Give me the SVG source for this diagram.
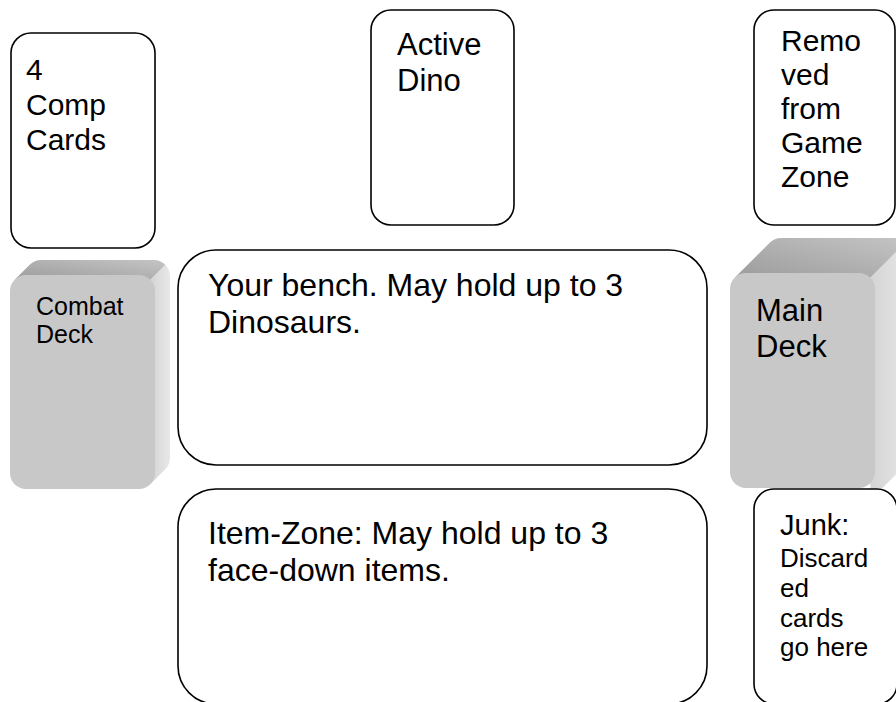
<svg xmlns="http://www.w3.org/2000/svg" width="896" height="702" viewBox="0 0 896 702">
<defs>
<style>
.card{fill:#ffffff;stroke:#000000;stroke-width:1.6}
.t{font-family:"Liberation Sans",Arial,sans-serif;fill:#000000}
.front{fill:#c8c8c8}
.side{fill:url(#sideG)}
.top{fill:url(#topG)}
</style>
<linearGradient id="topG" x1="0" y1="1" x2="1" y2="0">
<stop offset="0" stop-color="#9c9c9c"/>
<stop offset="1" stop-color="#c4c4c4"/>
</linearGradient>
<linearGradient id="sideG" x1="0" y1="0" x2="1" y2="0">
<stop offset="0" stop-color="#d4d4d4"/>
<stop offset="1" stop-color="#e8e8e8"/>
</linearGradient>
</defs>
<rect width="896" height="702" fill="#ffffff"/>

<g id="comp-cards">
<rect class="card" x="11" y="33" width="144" height="215" rx="20"/>
<text class="t" font-size="30"><tspan x="26" y="80">4</tspan><tspan x="26" y="115">Comp</tspan><tspan x="26" y="150">Cards</tspan></text>
</g>

<g id="active-dino">
<rect class="card" x="371" y="10" width="143" height="215" rx="20"/>
<text class="t" font-size="31"><tspan x="397" y="55">Active</tspan><tspan x="397" y="91">Dino</tspan></text>
</g>

<g id="removed-zone">
<rect class="card" x="754" y="10" width="141" height="215" rx="20"/>
<text class="t" font-size="30"><tspan x="781" y="51">Remo</tspan><tspan x="781" y="85">ved</tspan><tspan x="781" y="119">from</tspan><tspan x="781" y="153">Game</tspan><tspan x="781" y="187">Zone</tspan></text>
</g>

<g id="combat-deck">
<path class="side" d="M150.3 279.7 L165.3 264.7 A16 16 0 0 1 170 276 L170 458 A16 16 0 0 1 165.3 469.3 L150.3 484.3 Z"/>
<path class="top" d="M14.7 279.7 L29.7 264.7 A16 16 0 0 1 41 260 L154 260 A16 16 0 0 1 165.3 264.7 L150.3 279.7 Z"/>
<rect class="front" x="10" y="275" width="145" height="214" rx="16"/>
<text class="t" font-size="25"><tspan x="36" y="315">Combat</tspan><tspan x="36" y="343">Deck</tspan></text>
</g>

<g id="main-deck">
<path class="side" d="M870.3 277.7 L905.3 242.7 A16 16 0 0 1 910 254 L910 454 A16 16 0 0 1 905.3 465.3 L870.3 500.3 Z"/>
<path class="top" d="M734.7 277.7 L769.7 242.7 A16 16 0 0 1 781 238 L894 238 A16 16 0 0 1 905.3 242.7 L870.3 277.7 Z"/>
<rect class="front" x="730" y="273" width="145" height="215" rx="16"/>
<text class="t" font-size="31"><tspan x="756" y="321">Main</tspan><tspan x="756" y="357">Deck</tspan></text>
</g>

<g id="bench">
<rect class="card" x="178" y="250" width="529" height="215" rx="38"/>
<text class="t" font-size="32"><tspan x="208" y="296">Your bench. May hold up to 3</tspan><tspan x="208" y="333">Dinosaurs.</tspan></text>
</g>

<g id="item-zone">
<rect class="card" x="178" y="489" width="529" height="215" rx="38"/>
<text class="t" font-size="32"><tspan x="208" y="544">Item-Zone: May hold up to 3</tspan><tspan x="208" y="581">face-down items.</tspan></text>
</g>

<g id="junk">
<rect class="card" x="754" y="489" width="143" height="215" rx="20"/>
<text class="t" font-size="29"><tspan x="780" y="535">Junk:</tspan></text>
<text class="t" font-size="26"><tspan x="780" y="567">Discard</tspan><tspan x="780" y="597">ed</tspan><tspan x="780" y="627">cards</tspan><tspan x="780" y="656">go here</tspan></text>
</g>

<g id="connectors"></g>
</svg>
